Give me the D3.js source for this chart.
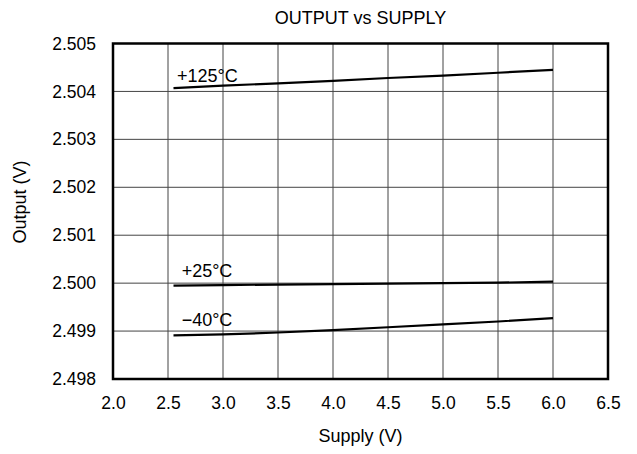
<!DOCTYPE html>
<html>
<head>
<meta charset="utf-8">
<script src="https://cdn.jsdelivr.net/npm/d3@7"></script>
<style>
  body { margin: 0; background: #fff; }
  text { font-family: "Liberation Sans", Arial, sans-serif; fill: #000; }
</style>
</head>
<body>
<svg id="chart" width="637" height="454"></svg>
<script>
// 数据
const supply = [2.55, 3.0, 3.5, 4.0, 4.5, 5.0, 5.5, 6.0];
const out125 = [2.50407, 2.50412, 2.50417, 2.50422, 2.50428, 2.50433, 2.50439, 2.50445];
const out25 = [2.49995, 2.49996, 2.49997, 2.49998, 2.49999, 2.50000, 2.50001, 2.50003];
const outM40 = [2.49891, 2.49893, 2.49897, 2.49902, 2.49908, 2.49914, 2.49920, 2.49927];
const seriesNames = ["+125°C", "+25°C", "\u221240°C"];
const xTicks = [2.0, 2.5, 3.0, 3.5, 4.0, 4.5, 5.0, 5.5, 6.0, 6.5];
const yTicks = [2.498, 2.499, 2.500, 2.501, 2.502, 2.503, 2.504, 2.505];

const svg = d3.select("#chart");
const m = { left: 113, right: 608, top: 43.5, bottom: 379 };
const fs = "17.5px";
const fsTitle = "18px";

const x = d3.scaleLinear().domain([2.0, 6.5]).range([m.left, m.right]);
const y = d3.scaleLinear().domain([2.498, 2.505]).range([m.bottom, m.top]);

// 网格线
svg.append("g").selectAll("line").data(xTicks.slice(1, -1)).enter().append("line")
  .attr("x1", d => x(d)).attr("x2", d => x(d))
  .attr("y1", m.top).attr("y2", m.bottom)
  .attr("stroke", "#444").attr("stroke-width", 1);
svg.append("g").selectAll("line").data(yTicks.slice(1, -1)).enter().append("line")
  .attr("x1", m.left).attr("x2", m.right)
  .attr("y1", d => y(d)).attr("y2", d => y(d))
  .attr("stroke", "#444").attr("stroke-width", 1);

// 坐标轴刻度文字
const xAxis = d3.axisBottom(x).tickValues(xTicks).tickFormat(d3.format(".1f")).tickSize(0).tickPadding(18);
svg.append("g").attr("transform", `translate(0,${m.bottom})`).call(xAxis)
  .call(g => g.select(".domain").remove())
  .attr("font-family", null).attr("font-size", null)
  .selectAll("text").style("font-size", fs);

const yAxis = d3.axisLeft(y).tickValues(yTicks).tickFormat(d3.format(".3f")).tickSize(0).tickPadding(17);
svg.append("g").attr("transform", `translate(${m.left},0)`).call(yAxis)
  .call(g => g.select(".domain").remove())
  .attr("font-family", null).attr("font-size", null)
  .selectAll("text").style("font-size", fs);

// 曲线
const line = d3.line().x((d, i) => x(supply[i])).y(d => y(d));
[out125, out25, outM40].forEach(s => {
  svg.append("path").datum(s).attr("d", line)
    .attr("fill", "none").attr("stroke", "#000").attr("stroke-width", 2.2);
});

// 曲线标签
const labelPos = [[2.582, 2.50420], [2.624, 2.50012], [2.624, 2.49911]];
seriesNames.forEach((n, i) => {
  svg.append("text").attr("x", x(labelPos[i][0])).attr("y", y(labelPos[i][1]))
    .style("font-size", fsTitle).text(n);
});

// 边框
svg.append("rect").attr("x", m.left).attr("y", m.top)
  .attr("width", m.right - m.left).attr("height", m.bottom - m.top)
  .attr("fill", "none").attr("stroke", "#000").attr("stroke-width", 2.5);

// 标题
svg.append("text").attr("x", (m.left + m.right) / 2).attr("y", 24)
  .attr("text-anchor", "middle").style("font-size", fsTitle).text("OUTPUT vs SUPPLY");
svg.append("text").attr("x", (m.left + m.right) / 2).attr("y", 442)
  .attr("text-anchor", "middle").style("font-size", fsTitle).text("Supply (V)");
svg.append("text").attr("transform", "translate(26,202) rotate(-90)")
  .attr("text-anchor", "middle").style("font-size", fsTitle).text("Output (V)");
</script>
</body>
</html>
